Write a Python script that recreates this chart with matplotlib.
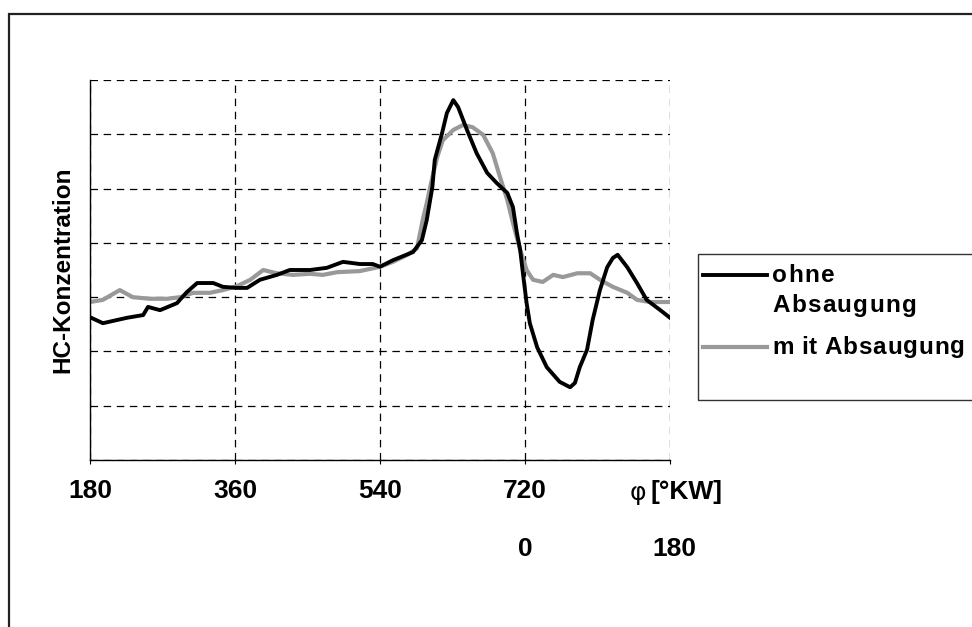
import matplotlib
matplotlib.use("Agg")
import matplotlib.pyplot as plt
from matplotlib.patches import Rectangle
from matplotlib.lines import Line2D

# ---- data (crank angle in deg, HC concentration in arbitrary units) ----
ohne_x = [180, 196, 226, 246, 252, 267, 288, 300, 313, 333, 345, 362, 375, 391, 412, 428,
          453, 474, 494, 515, 531, 540, 556, 581, 592, 598, 605, 608, 617, 623, 631, 637,
          648, 660, 673, 685, 698, 705, 710, 714, 718, 722, 726, 735, 747, 763, 776, 782,
          788, 797, 804, 813, 822, 829, 835, 847, 859, 871, 888, 900]
ohne_y = [2.63, 2.52, 2.62, 2.67, 2.82, 2.76, 2.89, 3.09, 3.26, 3.26, 3.19, 3.17, 3.17, 3.32,
          3.41, 3.50, 3.50, 3.54, 3.65, 3.61, 3.61, 3.56, 3.68, 3.83, 4.05, 4.42, 5.03, 5.53,
          6.02, 6.39, 6.63, 6.50, 6.08, 5.65, 5.29, 5.10, 4.92, 4.66, 4.18, 3.87, 3.37, 2.89,
          2.52, 2.08, 1.71, 1.44, 1.34, 1.42, 1.71, 2.03, 2.58, 3.13, 3.55, 3.72, 3.78, 3.55,
          3.26, 2.95, 2.76, 2.62]

mit_x = [180, 196, 217, 233, 254, 276, 292, 308, 329, 345, 362, 379, 395, 412, 432, 453,
         469, 487, 515, 540, 556, 574, 586, 593, 598, 605, 611, 618, 631, 643, 655, 668,
         680, 689, 698, 705, 714, 722, 730, 742, 755, 767, 785, 801, 813, 829, 847, 859,
         875, 900]
mit_y = [2.91, 2.95, 3.13, 3.00, 2.97, 2.97, 3.00, 3.08, 3.08, 3.13, 3.20, 3.32, 3.50, 3.44,
         3.41, 3.43, 3.41, 3.46, 3.48, 3.56, 3.65, 3.78, 3.90, 4.42, 4.73, 5.21, 5.58, 5.89,
         6.08, 6.17, 6.13, 5.99, 5.65, 5.21, 4.79, 4.37, 3.87, 3.50, 3.32, 3.28, 3.41, 3.37,
         3.44, 3.44, 3.32, 3.19, 3.08, 2.95, 2.91, 2.91]

x_ticks = [180, 360, 540, 720, 900]
x_ticklabels = ["180", "360", "540", "720", ""]
second_row_ticks = [720, 900]
second_row_labels = ["0", "180"]
y_grid = [0, 1, 2, 3, 4, 5, 6, 7]
series_names = ["ohne\nAbsaugung", "m it Absaugung"]
ylabel = "HC-Konzentration"
xunit_sym = "φ"
xunit_txt = "[°KW]"

# ---- figure ----
W, H = 972, 627
fig = plt.figure(figsize=(W / 100, H / 100), dpi=100)
fig.patch.set_facecolor("white")
FONT = "Liberation Sans"

def fx(px):
    return px / W

def fy(py):
    return 1 - py / H

ax = fig.add_axes([fx(90), fy(460), fx(670) - fx(90), fy(80) - fy(460)])
ax.set_xlim(180, 900)
ax.set_ylim(0, 7)

ax.plot(mit_x, mit_y, color="#999999", lw=3.0, solid_joinstyle="round", zorder=3)
ax.plot(ohne_x, ohne_y, color="black", lw=2.8, solid_joinstyle="round", zorder=4)

ax.set_xticks(x_ticks)
ax.set_xticklabels(x_ticklabels, fontfamily=FONT, fontweight="bold", fontsize=19)
ax.set_yticks(y_grid)
ax.set_yticklabels([])
ax.tick_params(axis="y", length=0)
ax.tick_params(axis="x", direction="out", length=3, width=0.8, color="black", pad=11)
ax.grid(True, color="black", lw=0.9, linestyle=(0, (6, 4.5)))
for s in ["top", "right"]:
    ax.spines[s].set_visible(False)
for s in ["left", "bottom"]:
    ax.spines[s].set_color("black")
    ax.spines[s].set_linewidth(1.0)
    ax.spines[s].set_zorder(5)

ax.set_ylabel(ylabel, fontfamily=FONT, fontweight="bold", fontsize=17.5, labelpad=8)

# second row of x labels
row2_y = -(549 - 460) / (460 - 80)
for t, lab in zip(second_row_ticks, second_row_labels):
    ax.text(t + (5 if t == 900 else 0), row2_y, lab, transform=ax.get_xaxis_transform(),
            ha="center", va="center", fontfamily=FONT, fontweight="bold", fontsize=19)

# unit label
fig.text(fx(638), fy(493), xunit_sym, ha="center", va="center", fontfamily="DejaVu Sans",
         fontsize=18)
fig.text(fx(650), fy(492), xunit_txt, ha="left", va="center", fontfamily=FONT,
         fontweight="bold", fontsize=19)

# outer frame
fig.patches.append(Rectangle((fx(8.5), fy(700)), fx(1100), fy(14) - fy(700),
                             transform=fig.transFigure, fill=False, edgecolor="#222222",
                             lw=1.6, zorder=0))

# legend box
fig.patches.append(Rectangle((fx(698), fy(400)), fx(400), fy(254) - fy(400),
                             transform=fig.transFigure, facecolor="white",
                             edgecolor="#333333", lw=1.0, zorder=1))
fig.lines.append(Line2D([fx(703), fx(767)], [fy(275), fy(275)], transform=fig.transFigure,
                        color="black", lw=2.8))
fig.lines.append(Line2D([fx(703), fx(767)], [fy(347), fy(347)], transform=fig.transFigure,
                        color="#999999", lw=3.0))

renderer = fig.canvas.get_renderer()

def spaced_text(px, py, s, gap=1.4, size=17.5):
    x = px
    for ch in s:
        t = fig.text(fx(x), fy(py), ch, ha="left", va="center", fontfamily=FONT,
                     fontweight="bold", fontsize=size)
        w = t.get_window_extent(renderer).width if ch.strip() else size * 0.32
        x += w + gap

n1, n2 = series_names[0].split("\n")
spaced_text(772, 275, n1)
spaced_text(772, 305, n2)
spaced_text(772, 347, series_names[1], gap=0.9)

fig.savefig("out.png", dpi=100)
